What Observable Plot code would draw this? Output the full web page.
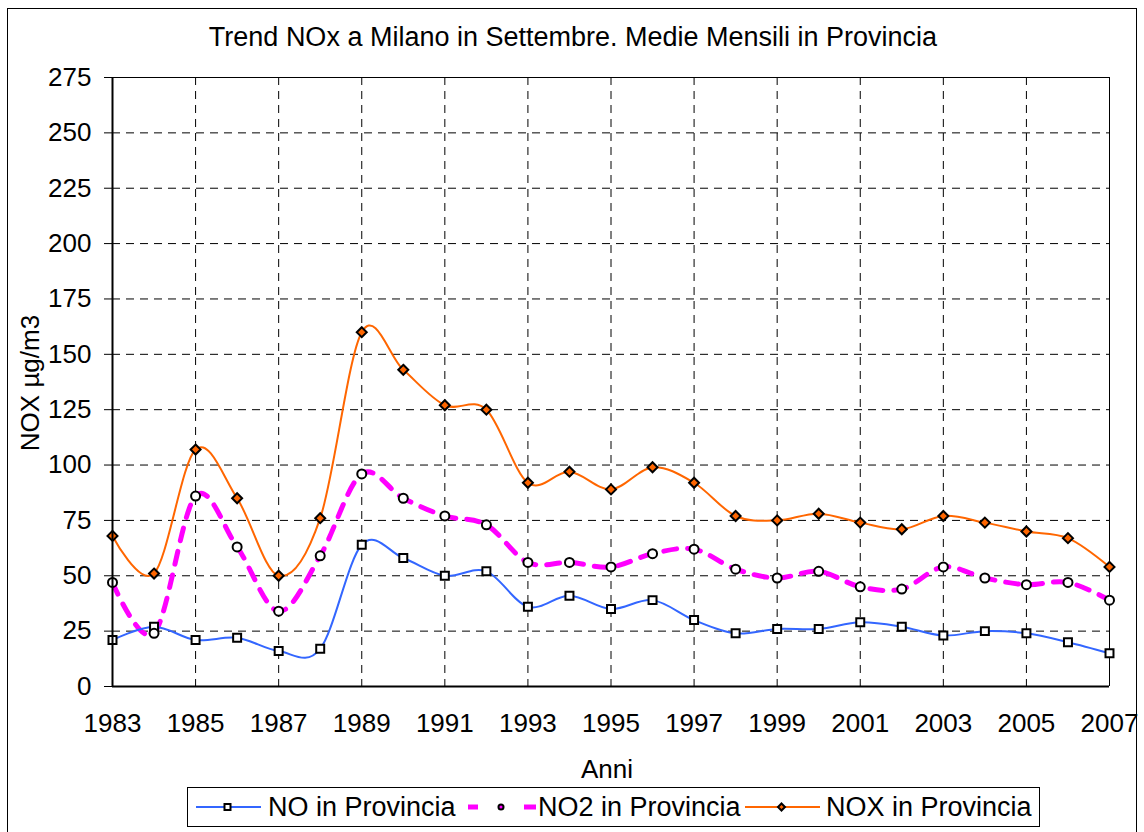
<!DOCTYPE html>
<html>
<head>
<meta charset="utf-8">
<script src="https://cdn.jsdelivr.net/npm/d3@7"></script>
<script src="https://cdn.jsdelivr.net/npm/@observablehq/plot@0.6"></script>
<style>
  html, body { margin: 0; padding: 0; background: #fff; }
  #wrap { position: relative; width: 1144px; height: 832px; overflow: hidden; font-family: "Liberation Sans", Arial, sans-serif; color: #000; }
  #outer { position: absolute; left: 7px; top: 8px; width: 1130px; height: 840px; border: 1px solid #000; box-sizing: border-box; }
  #chart { position: absolute; left: 0; top: 0; }
  .lbl { position: absolute; white-space: nowrap; line-height: 1; }
  #title { left: 0; width: 1146px; text-align: center; top: 24px; font-size: 27px; }
  #xlab { left: 0; width: 1214px; text-align: center; top: 756px; font-size: 26px; }
  #ylab { left: 30px; top: 383px; font-size: 26px; transform: translate(-50%, -50%) rotate(-90deg); }
  #legend { position: absolute; left: 187px; top: 787px; width: 853px; height: 40px; border: 1px solid #000; box-sizing: border-box; background: #fff; }
  .ltext { position: absolute; top: 6px; font-size: 27px; line-height: 1; white-space: nowrap; }
  .lsym { position: absolute; top: 9px; }
</style>
</head>
<body>
<div id="wrap">
  <div id="outer"></div>
  <div id="chart"></div>
  <div class="lbl" id="title">Trend NOx a Milano in Settembre. Medie Mensili in Provincia</div>
  <div class="lbl" id="xlab">Anni</div>
  <div class="lbl" id="ylab">NOX µg/m3</div>
  <div id="legend"></div>
</div>
<script>
const years = d3.range(1983, 2008);
const noValues  = [21, 27, 21, 22, 16, 17, 64, 58, 50, 52, 36, 41, 35, 39, 30, 24, 26, 26, 29, 27, 23, 25, 24, 20, 15];
const no2Values = [47, 24, 86, 63, 34, 59, 96, 85, 77, 73, 56, 56, 54, 60, 62, 53, 49, 52, 45, 44, 54, 49, 46, 47, 39];
const noxValues = [68, 51, 107, 85, 50, 76, 160, 143, 127, 125, 92, 97, 89, 99, 92, 77, 75, 78, 74, 71, 77, 74, 70, 67, 54];
const seriesNames = ["NO in Provincia", "NO2 in Provincia", "NOX in Provincia"];
const xTicks = d3.range(1983, 2008, 2);
const yTicks = d3.range(0, 276, 25);

const toRows = vals => years.map((y, i) => ({year: y, value: vals[i]}));
const noRows = toRows(noValues), no2Rows = toRows(no2Values), noxRows = toRows(noxValues);

const blue = "#3366ff", magenta = "#ff00ff", orange = "#ff6600";
const curve = d3.curveCatmullRom.alpha(0);

const chart = Plot.plot({
  width: 1144,
  height: 832,
  marginLeft: 112,
  marginRight: 35,
  marginTop: 77,
  marginBottom: 146,
  style: {fontFamily: "'Liberation Sans', Arial, sans-serif", fontSize: "26px", color: "#000", background: "transparent", overflow: "visible"},
  x: {domain: [1983, 2007], ticks: xTicks, tickFormat: d => String(d), tickSize: 0, tickPadding: 27, label: null},
  y: {domain: [0, 275], ticks: yTicks, tickSize: 8, tickPadding: 13, label: null},
  marks: [
    Plot.ruleX(xTicks.filter(d => d > 1983 && d < 2007), {stroke: "#000", strokeWidth: 1, strokeDasharray: "8,6"}),
    Plot.ruleY(yTicks.filter(d => d > 0 && d < 275), {stroke: "#000", strokeWidth: 1, strokeDasharray: "8,6"}),
    Plot.ruleY([275], {stroke: "#000", strokeWidth: 1}),
    Plot.ruleX([2007], {stroke: "#000", strokeWidth: 1}),
    Plot.lineY(no2Rows, {x: "year", y: "value", stroke: magenta, strokeWidth: 5, strokeDasharray: "13,11", curve}),
    Plot.lineY(noRows, {x: "year", y: "value", stroke: blue, strokeWidth: 2, curve}),
    Plot.lineY(noxRows, {x: "year", y: "value", stroke: orange, strokeWidth: 2, curve}),
    Plot.dot(noRows, {x: "year", y: "value", symbol: "square", r: 4.5, fill: "#fff", stroke: "#000", strokeWidth: 2}),
    Plot.dot(no2Rows, {x: "year", y: "value", symbol: "circle", r: 4.5, fill: "#fff", stroke: "#000", strokeWidth: 2}),
    Plot.dot(noxRows, {x: "year", y: "value", symbol: "diamond2", r: 4.5, fill: orange, stroke: "#000", strokeWidth: 2}),
    Plot.ruleX([1983], {stroke: "#000", strokeWidth: 2}),
    Plot.ruleY([0], {stroke: "#000", strokeWidth: 2})
  ]
});
document.getElementById("chart").appendChild(chart);

// Legend
const legend = document.getElementById("legend");
const legendItems = [
  {name: seriesNames[0], color: blue, width: 2, segs: [[0, 65]], symbol: "square", fill: "#fff", left: 8, w: 65, text: 80},
  {name: seriesNames[1], color: magenta, width: 5, segs: [[0, 10], [56, 68]], symbol: "circle", fill: magenta, left: 280, w: 68, text: 350},
  {name: seriesNames[2], color: orange, width: 2, segs: [[0, 75]], symbol: "diamond", fill: orange, left: 557, w: 75, text: 638}
];
legendItems.forEach(it => {
  const svg = d3.create("svg").attr("class", "lsym").attr("width", it.w).attr("height", 20)
    .style("left", it.left + "px");
  it.segs.forEach(([a, b]) => svg.append("line").attr("x1", a).attr("x2", b).attr("y1", 10).attr("y2", 10)
    .attr("stroke", it.color).attr("stroke-width", it.width));
  let path;
  if (it.symbol === "square") path = "M-3,-3h6v6h-6z";
  else if (it.symbol === "circle") path = d3.symbol(d3.symbolCircle, 20)();
  else path = "M0,-3.5L3.5,0L0,3.5L-3.5,0z";
  svg.append("path").attr("d", path).attr("transform", `translate(${it.w / 2 - 1},10)`)
    .attr("fill", it.fill).attr("stroke", "#000").attr("stroke-width", 2);
  legend.appendChild(svg.node());
  const span = document.createElement("div");
  span.className = "ltext";
  span.style.left = it.text + "px";
  span.textContent = it.name;
  legend.appendChild(span);
});
</script>
</body>
</html>
